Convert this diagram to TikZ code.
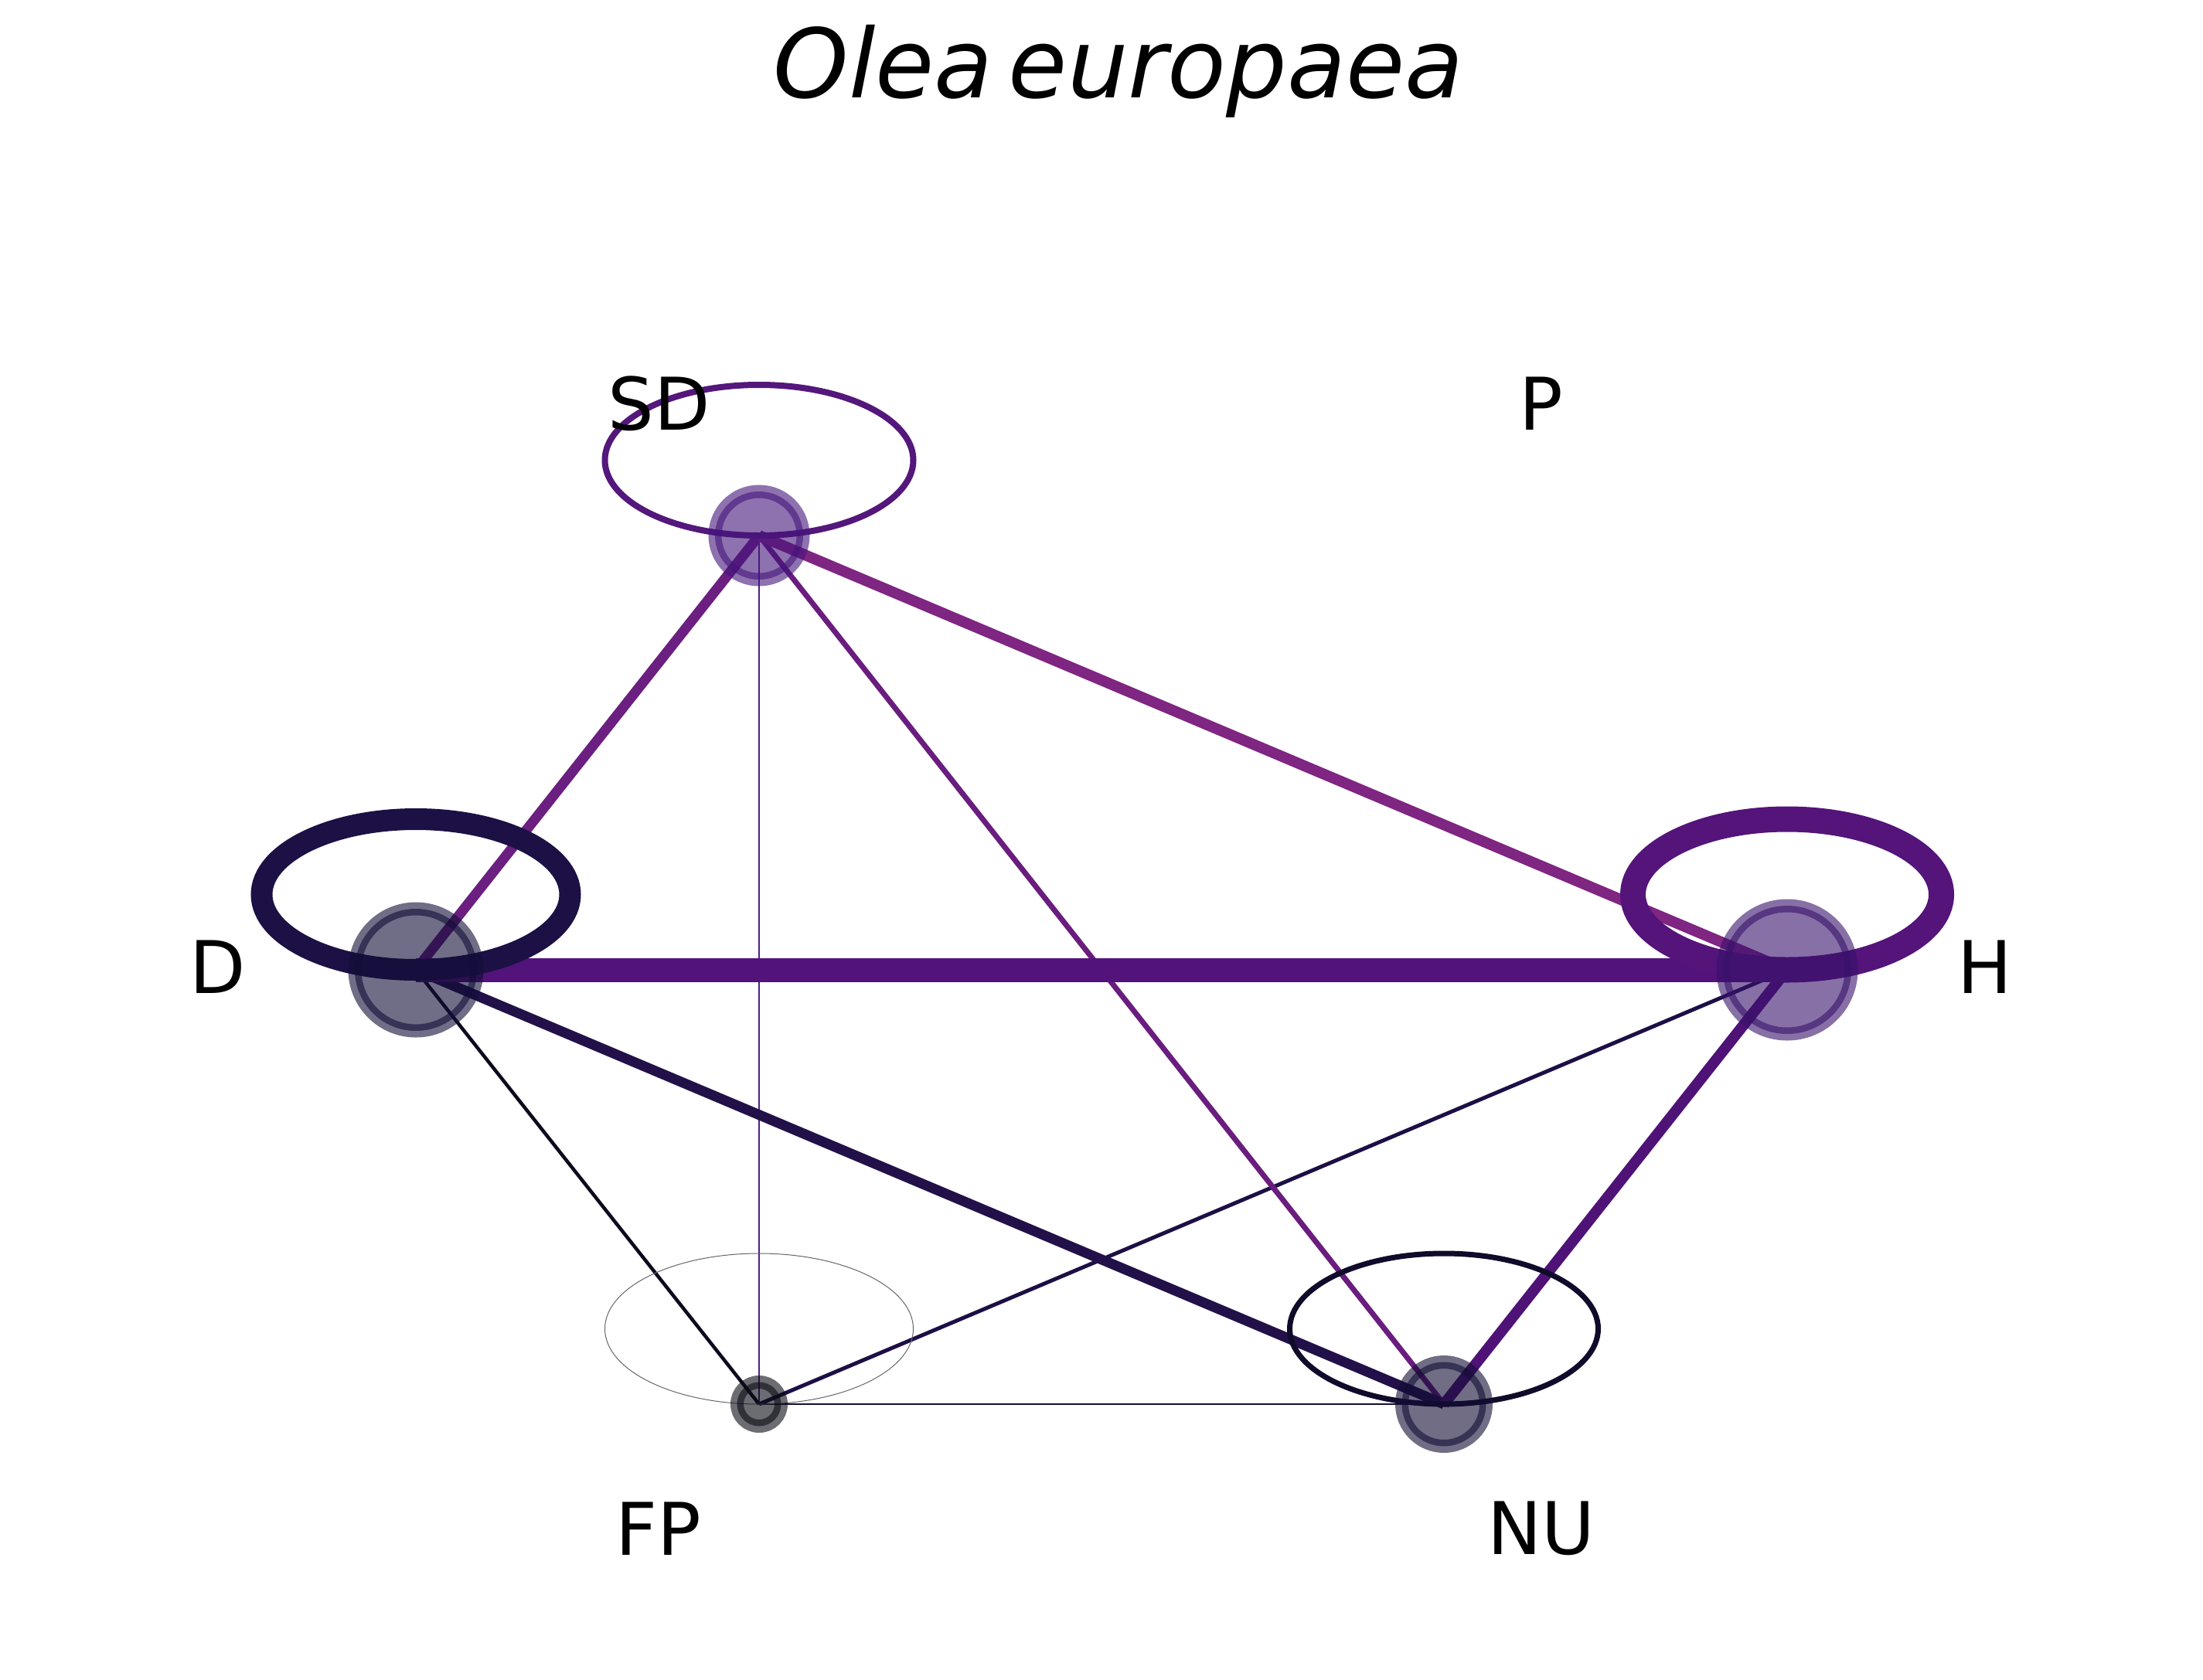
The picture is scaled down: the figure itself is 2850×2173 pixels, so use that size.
\documentclass[tikz,border=0pt]{standalone}
\usepackage{fontspec}
\setmainfont{DejaVu Sans}
\newfontfamily\djv{DejaVu Sans}
\definecolor{eSDD}{HTML}{6B1F80}
\definecolor{eSDH}{HTML}{7F2582}
\definecolor{eSDNU}{HTML}{6A1D7E}
\definecolor{eSDFP}{HTML}{4D1F85}
\definecolor{eDH}{HTML}{52137A}
\definecolor{eDNU}{HTML}{221149}
\definecolor{eDFP}{HTML}{0E0A1E}
\definecolor{eHNU}{HTML}{4F1277}
\definecolor{eHFP}{HTML}{1D0F45}
\definecolor{eFPNU}{HTML}{160F36}
\definecolor{lSD}{HTML}{54177B}
\definecolor{lD}{HTML}{1C1045}
\definecolor{lH}{HTML}{54147A}
\definecolor{lNU}{HTML}{100B2A}
\definecolor{lFP}{HTML}{666666}
\definecolor{nSD}{HTML}{43147B}
\definecolor{nD}{HTML}{120D37}
\definecolor{nH}{HTML}{37116B}
\definecolor{nFP}{HTML}{0A0C14}
\definecolor{nNU}{HTML}{120D34}
\tikzset{
  lbl/.style={inner sep=0pt, font=\fontsize{94}{100}\selectfont},
  edgeline/.style={line cap=butt},
}
\newcommand{\vtx}[3]{%
  \fill[#2, fill opacity=0.6] (#1) circle[radius=#3pt];
  \draw[#2, draw opacity=0.6, line width=17pt] (#1) circle[radius=#3pt];
}
\newcommand{\selfloop}[3]{%
  \draw[#2, line width=#3pt] ([yshift=97.5pt]#1) ellipse[x radius=199.5pt, y radius=97.5pt];
}
\begin{document}
\begin{tikzpicture}[x=1pt, y=-1pt]
\useasboundingbox (0,0) rectangle (2850,2173);
\fill[white] (0,0) rectangle (2850,2173);
% positions
\node[coordinate] (SD) at (982,693) {};
\node[coordinate] (D) at (538,1255) {};
\node[coordinate] (H) at (2312,1255) {};
\node[coordinate] (FP) at (982,1817) {};
\node[coordinate] (NU) at (1868,1817) {};
% edges
\draw[edgeline, eSDFP, line width=2.5pt] (SD) -- (FP);
\draw[edgeline, eFPNU, line width=2.5pt] (FP) -- (NU);
\draw[edgeline, eDFP, line width=4.5pt] (D) -- (FP);
\draw[edgeline, eHFP, line width=5pt] (H) -- (FP);
\draw[edgeline, eSDNU, line width=7pt] (SD) -- (NU);
\draw[edgeline, eDNU, line width=13pt] (D) -- (NU);
\draw[edgeline, eHNU, line width=14pt] (H) -- (NU);
\draw[edgeline, eSDD, line width=13pt] (SD) -- (D);
\draw[edgeline, eSDH, line width=14pt] (SD) -- (H);
\draw[edgeline, eDH, line width=31pt] (D) -- (H);
% self loops
\selfloop{SD}{lSD}{8}
\selfloop{D}{lD}{28}
\selfloop{H}{lH}{33}
\selfloop{NU}{lNU}{7}
\selfloop{FP}{lFP}{1}
% vertices
\vtx{SD}{nSD}{57}
\vtx{D}{nD}{79}
\vtx{H}{nH}{83}
\vtx{FP}{nFP}{28.5}
\vtx{NU}{nNU}{54.5}
% labels
\node[lbl] (lSDt) at (853,522) {SD};
\node[lbl] (lPt) at (1994,522) {P};
\node[lbl] (lDt) at (282,1251) {D};
\node[lbl] (lHt) at (2568,1251) {H};
\node[lbl] (lFPt) at (852,1978) {FP};
\node[lbl] (lNUt) at (1994,1978) {NU};
% title
\node[anchor=base, inner sep=0pt, font=\djv\itshape\fontsize{124}{130}\selectfont] (title) at (1447,127) {Olea\hspace{20pt}europaea};
\end{tikzpicture}
\end{document}
